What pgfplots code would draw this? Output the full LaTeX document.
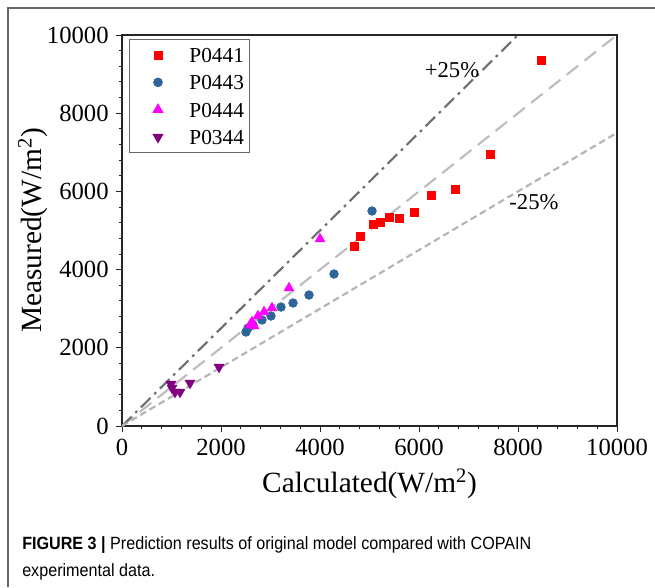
\documentclass[border=0pt]{standalone}
\usepackage{fontspec}
\setmainfont{Liberation Serif}
\newfontfamily\capfont[FakeStretch=0.91]{Liberation Sans}
\usepackage{pgfplots}
\pgfplotsset{compat=1.18}

\definecolor{cA}{HTML}{FF0000}
\definecolor{cB}{HTML}{2F6498}
\definecolor{cC}{HTML}{FF00FF}
\definecolor{cD}{HTML}{800080}
\definecolor{lnEq}{HTML}{BDBDBD}
\definecolor{lnUp}{HTML}{6E6E6E}
\definecolor{lnDn}{HTML}{B4B4B4}

\begin{document}
\begin{tikzpicture}
% page size: 655x587 px at 0.75pt/px, axis origin at px (122,426)
\useasboundingbox (-91.5pt,-120.75pt) rectangle (399.75pt,319.5pt);
\draw[black!60, line width=1pt] (-85.5pt,-121pt) -- (-85.5pt,313.5pt) -- (400pt,313.5pt);

\begin{axis}[
    at={(0,0)}, anchor=south west,
    scale only axis,
    width=371.25pt, height=293.25pt,
    xmin=0, xmax=10000, ymin=0, ymax=10000,
    xtick={0,2000,...,10000},
    ytick={0,2000,...,10000},
    minor tick num=4,
    tick align=outside, tick pos=left,
    major tick length=4.5pt, minor tick length=2.5pt,
    axis line style={black!85, line width=0.8pt},
    every tick/.style={black!85, line width=0.7pt},
    scaled ticks=false,
    /pgf/number format/set thousands separator={},
    /pgf/number format/assume math mode=true,
    tick label style={font=\fontsize{18.5}{18.5}\selectfont},
    xticklabel style={yshift=-2pt},
    yticklabel style={xshift=-2pt},
    xlabel={Calculated(W/m\textsuperscript{2})},
    ylabel={Measured(W/m\textsuperscript{2})},
    every axis x label/.style={at={([yshift=-43.5pt]axis description cs:0.5,0)}, anchor=center,
        font=\fontsize{22}{22}\selectfont},
    every axis y label/.style={at={([xshift=-66.75pt]axis description cs:0,0.5)}, anchor=center, rotate=90,
        font=\fontsize{22}{22}\selectfont},
    legend style={at={(0.014,0.99)}, anchor=north west,
        draw=black!60, line width=0.6pt,
        font=\fontsize{16}{16}\selectfont,
        inner xsep=4pt, inner ysep=6.3pt,
        row sep=9.5pt, column sep=13.25pt,
        nodes={inner sep=0pt, text height=11pt, text depth=0pt}},
    legend cell align=left,
    legend image code/.code={
        \path (-17.2pt,0pt) (10pt,0pt);
        \draw[#1] plot coordinates {(0pt,0pt)};
    },
]

\addplot[only marks, mark=square*, mark size=3pt, color=cA] coordinates {
    (4687,4604) (4808,4859) (5071,5166) (5212,5217) (5394,5345) (5596,5320)
    (5899,5473) (6242,5908) (6727,6061) (7434,6957) (8465,9361)
};
\addplot[only marks, mark=*, mark size=3.3pt, color=cB] coordinates {
    (5051,5499) (4283,3887) (3778,3350) (3455,3146) (3212,3043) (3010,2813)
    (2828,2711) (2646,2583) (2545,2506) (2505,2404)
};
\addplot[only marks, mark=triangle*, mark size=4.3pt, color=cC] coordinates {
    (4000,4783) (3374,3529) (3030,3018) (2869,2916) (2747,2813) (2626,2660)
    (2586,2583) (2667,2558)
};
\addplot[only marks, mark=triangle*, mark options={rotate=180}, mark size=4.3pt, color=cD] coordinates {
    (1960,1509) (1374,1100) (1172,870) (1071,870) (1010,972) (990,1074)
};
\legend{P0441, P0443, P0444, P0344}

\addplot[forget plot, color=lnEq, line width=1.6pt, dash pattern=on 11pt off 6pt] coordinates {(0,0) (10000,10000)};
\addplot[forget plot, color=lnUp, line width=1.6pt, dash pattern=on 10pt off 4pt on 2pt off 4pt] coordinates {(0,0) (8000,10000)};
\addplot[forget plot, color=lnDn, line width=1.6pt, dash pattern=on 5pt off 3pt] coordinates {(0,0) (10000,7500)};

\node[font=\fontsize{17}{17}\selectfont] at (axis cs:6667,9105) {+25\%};
\node[font=\fontsize{17}{17}\selectfont] at (axis cs:8323,5737) {-25\%};
\end{axis}

\node[anchor=west, inner sep=0pt, font=\capfont\fontsize{13.3}{16}\selectfont] at (-75pt,-89.25pt)
    {\textbf{FIGURE 3 |} Prediction results of original model compared with COPAIN};
\node[anchor=west, inner sep=0pt, font=\capfont\fontsize{13.3}{16}\selectfont] at (-75pt,-109.5pt)
    {experimental data.};
\end{tikzpicture}
\end{document}
